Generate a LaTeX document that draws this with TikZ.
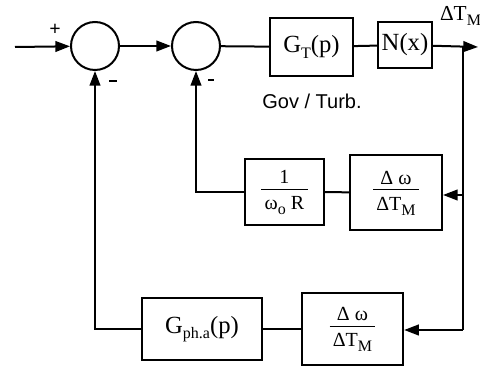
\documentclass[tikz,border=0pt]{standalone}
\usepackage{fontspec}
\setmainfont{Liberation Serif}
\setsansfont{Liberation Sans}
\usepackage{tikz}
\usetikzlibrary{arrows.meta}
\newcommand\fracbox[2]{\begin{tabular}{@{\,}c@{\,}}#1\\[-1pt]\hline\rule{0pt}{15pt}#2\end{tabular}}
\newcommand\lowsub[1]{\raisebox{-4pt}{\fontsize{12}{12}\selectfont #1}}

\begin{document}
\begin{tikzpicture}[x=0.75pt,y=-0.75pt,line width=1.5pt,
  sum/.style={draw,circle,minimum size=36pt,inner sep=0pt},
  block/.style={draw,rectangle,inner sep=2pt,font=\fontsize{18.5}{20}\selectfont},
  ratio/.style={block,font=\fontsize{15}{17}\selectfont},
  sig/.style={-{Triangle[length=11pt,width=8pt]}}]
\useasboundingbox (0,0) rectangle (480,366);
  \node[sum] (s1) at (95,46) {};
  \node[sum] (s2) at (196,46) {};
  \node[block,minimum width=62pt,minimum height=44pt] (gt) at (311.5,47) {G\lowsub{T}(p)};
  \node[block,minimum width=40pt,minimum height=35pt,inner sep=0pt] (nx) at (405,45) {N(x)};
  \node[ratio,minimum width=59pt,minimum height=49pt] (fr) at (284.5,192) {\fracbox{1}{ω\lowsub{o} R}};
  \node[ratio,minimum width=69pt,minimum height=56pt] (dm1) at (396,192.5) {\fracbox{Δ ω}{ΔT\lowsub{M}}};
  \node[block,minimum width=90pt,minimum height=46pt] (gph) at (202,329) {G\lowsub{ph.a}(p)};
  \node[ratio,minimum width=76pt,minimum height=54pt] (dm2) at (352.5,329) {\fracbox{Δ ω}{ΔT\lowsub{M}}};
  \coordinate (in) at (15,47);
  \coordinate (out) at (478,47);
  \coordinate (tap) at (463,47);
  \coordinate (tap1) at (463,195);
  \coordinate (tap2) at (463,330);
  % labels
  \node[font=\bfseries\fontsize{15}{17}\selectfont] (plus) at (55,30) {+};
  \node[fill,minimum width=6pt,minimum height=2.2pt,inner sep=0pt] (m1) at (113,81) {};
  \node[fill,minimum width=5pt,minimum height=2pt,inner sep=0pt] (m2) at (211,80) {};
  \node[font=\sffamily\fontsize{15}{17}\selectfont] (gov) at (312,101) {Gov / Turb.};
  \node[font=\fontsize{16}{18}\selectfont,anchor=south east,inner sep=0pt] (dtm) at (482,27) {ΔT\lowsub{M}};
  % forward path
  \draw[sig] (in) -- (s1);
  \draw[sig] (s1) -- (s2);
  \draw (s2) -- (gt);
  \draw (gt) -- (nx);
  \draw[sig] (nx) -- (out);
  \draw (tap) -- (tap2);
  % feedback loops
  \draw[sig] (tap1) -- (tap1-|dm1.east);
  \draw (dm1) -- (fr);
  \draw[sig] (fr.west) -| (s2.south);
  \draw[sig] (tap2) -- (tap2-|dm2.east);
  \draw (dm2) -- (gph);
  \draw[sig] (gph.west) -| (s1.south);
\end{tikzpicture}
\end{document}
